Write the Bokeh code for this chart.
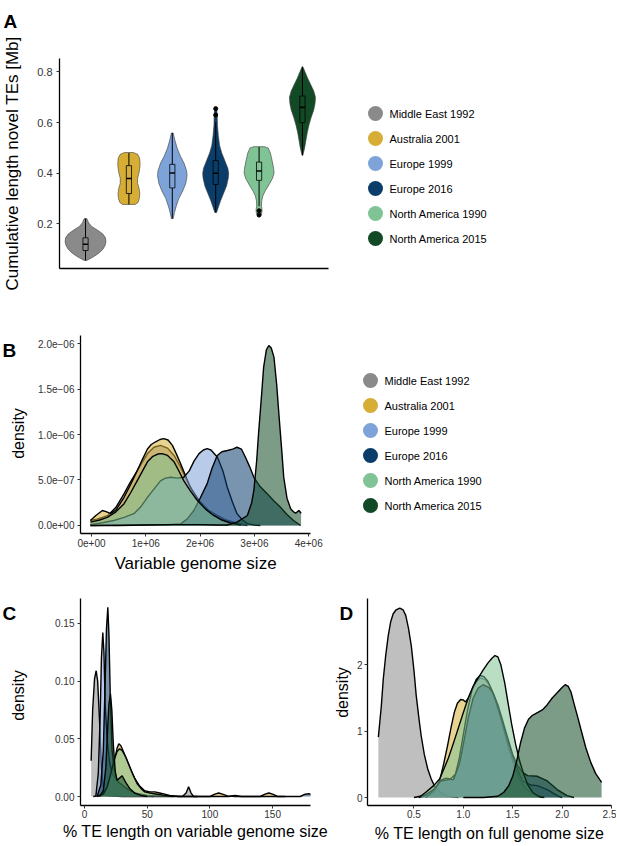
import math
from bokeh.plotting import figure
from bokeh.layouts import row, column
from bokeh.models import Range1d, FixedTicker, NumeralTickFormatter
from bokeh.core.properties import value
from bokeh.embed import file_html
from bokeh.resources import INLINE

FONT = "Liberation Sans"

groups = ["Middle East 1992", "Australia 2001", "Europe 1999", "Europe 2016",
          "North America 1990", "North America 2015"]
colors = ["#8a8a8a", "#d6ae35", "#7da3d9", "#0b3d6b", "#80c394", "#134a26"]

# ---------------- Panel A: violins (y in Mb, half-width in category units) ----
vio_me_y = [0.056, 0.062, 0.072, 0.085, 0.100, 0.115, 0.130, 0.145, 0.160, 0.175, 0.190, 0.205, 0.221]
vio_me_w = [0.03, 0.10, 0.20, 0.31, 0.40, 0.45, 0.47, 0.46, 0.40, 0.28, 0.14, 0.07, 0.03]
vio_au_y = [0.277, 0.285, 0.300, 0.320, 0.340, 0.360, 0.380, 0.400, 0.420, 0.440, 0.460, 0.475, 0.482]
vio_au_w = [0.15, 0.21, 0.24, 0.25, 0.235, 0.20, 0.20, 0.23, 0.25, 0.257, 0.245, 0.20, 0.10]
vio_e99_y = [0.221, 0.245, 0.270, 0.300, 0.330, 0.360, 0.390, 0.410, 0.440, 0.470, 0.500, 0.530, 0.559]
vio_e99_w = [0.02, 0.05, 0.09, 0.15, 0.24, 0.31, 0.34, 0.33, 0.27, 0.18, 0.11, 0.06, 0.02]
vio_e16_y = [0.245, 0.265, 0.290, 0.320, 0.350, 0.380, 0.400, 0.420, 0.450, 0.480, 0.510, 0.550, 0.590, 0.630, 0.662]
vio_e16_w = [0.02, 0.06, 0.11, 0.18, 0.25, 0.29, 0.30, 0.28, 0.21, 0.14, 0.09, 0.06, 0.04, 0.035, 0.02]
vio_na90_y = [0.229, 0.240, 0.255, 0.270, 0.290, 0.310, 0.330, 0.355, 0.380, 0.400, 0.420, 0.450, 0.480, 0.500, 0.505]
vio_na90_w = [0.02, 0.06, 0.07, 0.055, 0.06, 0.085, 0.14, 0.23, 0.31, 0.345, 0.335, 0.30, 0.26, 0.21, 0.12]
vio_na15_y = [0.471, 0.500, 0.530, 0.560, 0.590, 0.620, 0.650, 0.675, 0.700, 0.725, 0.750, 0.775, 0.800, 0.820]
vio_na15_w = [0.01, 0.05, 0.08, 0.11, 0.15, 0.20, 0.26, 0.29, 0.30, 0.26, 0.19, 0.12, 0.06, 0.01]

box_q1 = [0.095, 0.320, 0.342, 0.356, 0.372, 0.600]
box_med = [0.120, 0.379, 0.401, 0.400, 0.409, 0.660]
box_q3 = [0.145, 0.430, 0.435, 0.450, 0.444, 0.705]
box_lo = [0.056, 0.277, 0.221, 0.245, 0.270, 0.471]
box_hi = [0.221, 0.480, 0.559, 0.600, 0.504, 0.820]
out_group = [3, 3, 4, 4]
out_y = [0.630, 0.655, 0.252, 0.235]
a_y_ticks = [0.2, 0.4, 0.6, 0.8]

# ---------------- Panel B: density of variable genome size -----------------
# x in Mb (1e+06 bp), y in 1e-06 per bp
b_me_x = [-0.02, 0.1, 0.2, 0.3, 0.45, 0.6, 0.7, 0.81, 0.92, 1.03, 1.15, 1.27, 1.4, 1.52, 1.64, 1.76, 1.88, 2.0, 2.15, 2.32, 2.48, 2.62, 2.8]
b_me_y = [0.055, 0.07, 0.09, 0.11, 0.2, 0.35, 0.46, 0.57, 0.68, 0.79, 0.86, 0.88, 0.85, 0.77, 0.64, 0.49, 0.36, 0.26, 0.17, 0.11, 0.06, 0.037, 0.01]
b_au_x = [-0.02, 0.08, 0.2, 0.28, 0.35, 0.45, 0.6, 0.72, 0.84, 0.94, 1.03, 1.1, 1.18, 1.26, 1.33, 1.41, 1.49, 1.56, 1.64, 1.73, 1.82, 1.95, 2.07, 2.2, 2.38, 2.55, 2.7, 2.87]
b_au_y = [0.055, 0.11, 0.165, 0.15, 0.13, 0.17, 0.31, 0.45, 0.60, 0.73, 0.84, 0.89, 0.92, 0.945, 0.955, 0.94, 0.88, 0.79, 0.68, 0.55, 0.42, 0.3, 0.2, 0.13, 0.07, 0.035, 0.015, 0.0]
b_e99_x = [-0.02, 0.2, 0.41, 0.6, 0.78, 0.9, 1.03, 1.15, 1.27, 1.36, 1.46, 1.58, 1.7, 1.8, 1.89, 1.98, 2.06, 2.13, 2.2, 2.32, 2.42, 2.5, 2.6, 2.68, 2.78, 2.87, 3.0, 3.11]
b_e99_y = [0.01, 0.03, 0.055, 0.09, 0.13, 0.2, 0.31, 0.4, 0.49, 0.52, 0.53, 0.52, 0.53, 0.6, 0.71, 0.79, 0.83, 0.845, 0.83, 0.75, 0.6, 0.42, 0.25, 0.13, 0.06, 0.02, 0.005, 0.0]
b_e16_x = [-0.02, 0.5, 1.0, 1.4, 1.64, 1.76, 1.885, 2.0, 2.13, 2.22, 2.315, 2.4, 2.5, 2.6, 2.68, 2.76, 2.835, 2.91, 2.99, 3.1, 3.235, 3.36, 3.48, 3.6, 3.72, 3.85]
b_e16_y = [0.0, 0.005, 0.01, 0.01, 0.018, 0.07, 0.165, 0.3, 0.46, 0.63, 0.77, 0.81, 0.824, 0.84, 0.86, 0.84, 0.75, 0.65, 0.53, 0.43, 0.35, 0.27, 0.2, 0.12, 0.055, 0.0]
b_na90_x = [-0.02, 0.15, 0.29, 0.45, 0.6, 0.72, 0.84, 0.94, 1.03, 1.13, 1.22, 1.3, 1.4, 1.52, 1.6, 1.7, 1.82, 1.95, 2.1, 2.25, 2.4, 2.56, 2.75]
b_na90_y = [0.037, 0.06, 0.09, 0.15, 0.24, 0.36, 0.49, 0.6, 0.70, 0.76, 0.785, 0.79, 0.77, 0.70, 0.61, 0.49, 0.38, 0.275, 0.18, 0.11, 0.06, 0.026, 0.005]
b_na15_x = [-0.02, 0.5, 1.0, 1.5, 2.0, 2.3, 2.5, 2.68, 2.87, 2.95, 2.99, 3.04, 3.08, 3.13, 3.17, 3.22, 3.265, 3.31, 3.36, 3.41, 3.45, 3.5, 3.54, 3.6, 3.67, 3.72, 3.76, 3.8, 3.82, 3.86]
b_na15_y = [0.0, 0.0, 0.005, 0.01, 0.01, 0.005, 0.005, 0.037, 0.11, 0.25, 0.385, 0.7, 1.04, 1.42, 1.74, 1.93, 1.978, 1.95, 1.85, 1.55, 1.23, 0.85, 0.53, 0.3, 0.18, 0.15, 0.135, 0.155, 0.165, 0.135]
b_x_ticks = [0, 1, 2, 3, 4]
b_x_labels = ["0e+00", "1e+06", "2e+06", "3e+06", "4e+06"]
b_y_ticks = [0, 0.5, 1, 1.5, 2]
b_y_labels = ["0.0e+00", "5.0e\u221207", "1.0e\u221206", "1.5e\u221206", "2.0e\u221206"]

# ---------------- Panel C: % TE length on variable genome size --------------
c_me_x = [5.3, 6.5, 8, 9.3, 10.5, 12, 13.5, 15, 17, 20, 30, 50, 70, 78, 81, 83, 85, 87, 90]
c_me_y = [0.031, 0.075, 0.102, 0.109, 0.1, 0.065, 0.025, 0.007, 0.002, 0.0005, 0.0, 0.0, 0.0, 0.0, 0.003, 0.0085, 0.003, 0.0, 0.0]
c_au_x = [7, 12, 15, 18, 21, 24, 26, 27.4, 29, 31, 34, 37, 40, 44, 48, 52, 56, 60, 64, 68, 75, 90, 100, 104, 107, 110, 114, 120, 130, 140, 144, 147, 150, 154, 160]
c_au_y = [0.0, 0.001, 0.003, 0.008, 0.018, 0.032, 0.042, 0.0457, 0.044, 0.039, 0.031, 0.023, 0.016, 0.009, 0.005, 0.004, 0.004, 0.003, 0.002, 0.001, 0.0, 0.0, 0.0, 0.002, 0.003, 0.002, 0.0005, 0.0, 0.0, 0.0, 0.002, 0.003, 0.002, 0.0, 0.0]
c_e99_x = [9, 11, 12.5, 13.5, 14.6, 15.5, 16.5, 18, 20, 22, 25, 28, 32, 38, 45, 55]
c_e99_y = [0.0, 0.02, 0.07, 0.12, 0.142, 0.125, 0.08, 0.05, 0.03, 0.02, 0.015, 0.012, 0.008, 0.004, 0.001, 0.0]
c_e16_x = [10, 13, 15, 16.5, 17.5, 18.6, 19.5, 20.5, 22, 24, 27, 30, 35, 40, 50, 60, 80, 100, 115, 120, 125, 140, 160, 172, 176, 179, 182]
c_e16_y = [0.0, 0.01, 0.04, 0.1, 0.145, 0.164, 0.14, 0.09, 0.04, 0.02, 0.012, 0.01, 0.006, 0.003, 0.001, 0.0005, 0.0, 0.0, 0.0, 0.001, 0.0, 0.0, 0.0, 0.0, 0.002, 0.0025, 0.001]
c_na90_x = [10, 15, 18, 21, 24, 26, 28, 30, 33, 36, 39, 42, 45, 48, 52, 58, 64, 70]
c_na90_y = [0.0, 0.002, 0.008, 0.02, 0.033, 0.039, 0.0413, 0.04, 0.034, 0.026, 0.018, 0.011, 0.007, 0.004, 0.003, 0.002, 0.001, 0.0]
c_na15_x = [12, 15, 17, 18.5, 19.5, 20.7, 21.8, 23, 24.5, 26, 28, 30, 33, 36, 40, 45, 50]
c_na15_y = [0.0, 0.005, 0.025, 0.06, 0.08, 0.089, 0.075, 0.045, 0.022, 0.014, 0.016, 0.018, 0.012, 0.007, 0.003, 0.001, 0.0]
c_x_ticks = [0, 50, 100, 150]
c_y_ticks = [0, 0.05, 0.10, 0.15]

# ---------------- Panel D: % TE length on full genome size ------------------
d_me_x = [0.14, 0.17, 0.19, 0.215, 0.24, 0.265, 0.29, 0.32, 0.357, 0.39, 0.417, 0.445, 0.473, 0.5, 0.523, 0.55, 0.573, 0.605, 0.64, 0.675, 0.707, 0.75, 0.79, 0.84, 0.89, 0.95]
d_me_y = [0.91, 1.38, 1.79, 2.15, 2.44, 2.65, 2.77, 2.83, 2.855, 2.83, 2.745, 2.55, 2.29, 1.92, 1.54, 1.2, 0.935, 0.65, 0.43, 0.28, 0.18, 0.1, 0.055, 0.025, 0.01, 0.0]
d_au_x = [0.62, 0.7, 0.76, 0.8, 0.84, 0.875, 0.91, 0.94, 0.973, 1.0, 1.023, 1.05, 1.09, 1.13, 1.17, 1.22, 1.27, 1.32, 1.38, 1.44, 1.5, 1.56, 1.62, 1.7, 1.8]
d_au_y = [0.0, 0.08, 0.25, 0.5, 0.78, 1.05, 1.29, 1.42, 1.478, 1.47, 1.44, 1.5, 1.62, 1.74, 1.8, 1.78, 1.68, 1.5, 1.2, 0.85, 0.55, 0.3, 0.15, 0.05, 0.0]
d_e99_x = [0.55, 0.65, 0.72, 0.77, 0.82, 0.87, 0.92, 0.96, 1.0, 1.04, 1.09, 1.13, 1.17, 1.21, 1.25, 1.3, 1.35, 1.4, 1.45, 1.5, 1.55, 1.6, 1.68, 1.75, 1.85, 1.95, 2.0]
d_e99_y = [0.0, 0.04, 0.15, 0.26, 0.29, 0.28, 0.35, 0.6, 0.95, 1.3, 1.63, 1.78, 1.84, 1.82, 1.75, 1.58, 1.35, 1.1, 0.85, 0.62, 0.42, 0.25, 0.19, 0.18, 0.12, 0.03, 0.0]
d_e16_x = [0.5, 0.6, 0.7, 0.77, 0.85, 0.9, 0.96, 1.0, 1.05, 1.1, 1.15, 1.2, 1.257, 1.3, 1.35, 1.4, 1.45, 1.5, 1.55, 1.6, 1.65, 1.75, 1.85, 1.95, 2.05, 2.12]
d_e16_y = [0.0, 0.03, 0.12, 0.25, 0.27, 0.27, 0.5, 0.8, 1.2, 1.5, 1.65, 1.7, 1.66, 1.58, 1.4, 1.15, 0.9, 0.65, 0.48, 0.38, 0.33, 0.32, 0.25, 0.12, 0.03, 0.0]
d_na90_x = [0.55, 0.62, 0.7, 0.76, 0.8, 0.85, 0.9, 0.95, 1.0, 1.05, 1.1, 1.15, 1.2, 1.25, 1.29, 1.32, 1.35, 1.38, 1.42, 1.45, 1.49, 1.53, 1.57, 1.61, 1.65, 1.7, 1.76, 1.82]
d_na90_y = [0.0, 0.08, 0.18, 0.28, 0.42, 0.6, 0.82, 1.05, 1.28, 1.5, 1.68, 1.8, 1.92, 2.03, 2.1, 2.14, 2.12, 2.0, 1.72, 1.45, 1.1, 0.8, 0.55, 0.36, 0.2, 0.08, 0.02, 0.0]
d_na15_x = [1.0, 1.2, 1.35, 1.41, 1.46, 1.5, 1.54, 1.58, 1.62, 1.66, 1.7, 1.75, 1.8, 1.85, 1.9, 1.95, 2.0, 2.03, 2.06, 2.09, 2.12, 2.16, 2.19, 2.24, 2.29, 2.34, 2.4]
d_na15_y = [0.0, 0.0, 0.02, 0.08, 0.18, 0.32, 0.55, 0.83, 1.05, 1.18, 1.24, 1.28, 1.32, 1.4, 1.5, 1.58, 1.66, 1.70, 1.68, 1.59, 1.42, 1.2, 1.03, 0.75, 0.53, 0.36, 0.23]
d_x_ticks = [0.5, 1.0, 1.5, 2.0, 2.5]
d_y_ticks = [0, 1, 2]

TICK_COL = "#333333"


def make_fig(width, height, bl, br, bt, bb, xr, yr):
    p = figure(width=width, height=height, min_border_left=bl, min_border_right=br,
               min_border_top=bt, min_border_bottom=bb,
               x_range=Range1d(*xr), y_range=Range1d(*yr),
               output_backend="svg", toolbar_location=None, tools="")
    p.grid.visible = False
    p.outline_line_color = None
    p.background_fill_color = "white"
    p.border_fill_color = "white"
    for ax in p.axis:
        ax.axis_line_color = "black"
        ax.axis_line_width = 1.3
        ax.major_tick_line_color = TICK_COL
        ax.major_tick_line_width = 1
        ax.major_tick_out = 3
        ax.major_tick_in = 0
        ax.minor_tick_line_color = None
        ax.major_label_text_font = FONT
        ax.major_label_text_color = TICK_COL
        ax.axis_label_text_font = FONT
        ax.axis_label_text_font_style = "normal"
        ax.axis_label_text_color = "black"
    return p


def blank_fig(width, height, bt, bb, page_top):
    # a text-only strip; its y coordinate is the negated page row (pixels)
    p = figure(width=width, height=height, min_border_left=0, min_border_right=0,
               min_border_top=bt, min_border_bottom=bb,
               x_range=Range1d(0, width),
               y_range=Range1d(-(page_top + height - bb), -(page_top + bt)),
               x_axis_location=None, y_axis_location=None,
               output_backend="svg", toolbar_location=None, tools="")
    p.grid.visible = False
    p.outline_line_color = None
    return p


def add_letter(p, text, x, base_y):
    p.text(x=[x], y=[-base_y], text=[text], text_font=value(FONT), text_font_size="19px",
           text_font_style="bold", text_baseline="alphabetic", text_align="left", text_color="black")


def add_ylabel(p, text, x, y, size):
    p.text(x=[x], y=[-y], text=[text], angle=math.pi / 2, text_font=value(FONT),
           text_font_size=size, text_baseline="middle", text_align="center", text_color="black")


def legend_fig(width, height, bt, bb, cx, first_px):
    # frame shares top/bottom borders with its row neighbour; 25 px per legend key
    fh = height - bt - bb
    top = -first_px / 25.0
    p = figure(width=width, height=height, min_border_left=0, min_border_right=0,
               min_border_top=bt, min_border_bottom=bb,
               x_range=Range1d(-cx, width - cx), y_range=Range1d(top + fh / 25.0, top),
               x_axis_location=None, y_axis_location=None,
               output_backend="svg", toolbar_location=None, tools="")
    p.grid.visible = False
    p.outline_line_color = None
    idx = list(range(len(groups)))
    p.scatter(x=[0] * len(groups), y=idx, size=15, fill_color=colors, line_color=None)
    p.text(x=[14] * len(groups), y=idx, text=groups, text_font=value(FONT),
           text_font_size="11px", text_baseline="middle", text_align="left", text_color="black")
    return p


def density_panel(p, xs_list, ys_list):
    for i in range(len(groups)):
        p.varea(x=xs_list[i], y1=0, y2=ys_list[i], fill_color=colors[i], fill_alpha=0.55)
        p.line(xs_list[i], ys_list[i], line_color="black", line_width=1.4)


def small_axes(p, label_size):
    for ax in p.axis:
        ax.major_label_text_font_size = "10px"
        ax.axis_label_text_font_size = label_size


# ---------------- Strip holding the "A" panel letter ----------------
strip = blank_fig(616, 32, 0, 0, 0)
add_letter(strip, "A", 3, 21)

# ---------------- Row 1: panel A + legend ----------------
pa = make_fig(338, 268, 58, 10, 26, 32, (0.4, 6.6), (0.024, 0.853))
vio_y = [vio_me_y, vio_au_y, vio_e99_y, vio_e16_y, vio_na90_y, vio_na15_y]
vio_w = [vio_me_w, vio_au_w, vio_e99_w, vio_e16_w, vio_na90_w, vio_na15_w]
positions = list(range(1, len(groups) + 1))
for i, c in enumerate(positions):
    xs = [c + w for w in vio_w[i]] + [c - w for w in reversed(vio_w[i])]
    ys = list(vio_y[i]) + list(reversed(vio_y[i]))
    pa.patch(xs, ys, fill_color=colors[i], line_color="#3a3a3a", line_width=0.6)
bw = 0.06
pa.segment(x0=positions, y0=box_lo, x1=positions, y1=box_q1, line_color="black", line_width=1)
pa.segment(x0=positions, y0=box_q3, x1=positions, y1=box_hi, line_color="black", line_width=1)
pa.quad(left=[c - bw for c in positions], right=[c + bw for c in positions],
        bottom=box_q1, top=box_q3, fill_color=colors, line_color="black", line_width=0.8)
pa.segment(x0=[c - bw for c in positions], y0=box_med, x1=[c + bw for c in positions], y1=box_med,
           line_color="black", line_width=1.6)
pa.scatter(x=[positions[g] for g in out_group], y=out_y, size=4, fill_color="black", line_color="black")
pa.xaxis.ticker = FixedTicker(ticks=[])
pa.yaxis.ticker = FixedTicker(ticks=a_y_ticks)
pa.yaxis.major_label_text_font_size = "11px"
pa.yaxis.major_label_standoff = 4
pa.yaxis.axis_label = "Cumulative length novel TEs [Mb]"
pa.yaxis.axis_label_text_font_size = "17px"
pa.yaxis.axis_label_standoff = 12

leg_a = legend_fig(278, 268, 26, 32, 37, 55)

# ---------------- Row 2: panel B + legend ----------------
ROW2_TOP = 300
sb = blank_fig(28, 280, 35, 47, ROW2_TOP)
add_letter(sb, "B", 2, 350)
add_ylabel(sb, "density", 18, 433, "16px")

pb = make_fig(300, 280, 52, 18, 35, 47, (-0.203, 4.033), (-0.088, 2.088))
density_panel(pb, [b_me_x, b_au_x, b_e99_x, b_e16_x, b_na90_x, b_na15_x],
              [b_me_y, b_au_y, b_e99_y, b_e16_y, b_na90_y, b_na15_y])
pb.xaxis.ticker = FixedTicker(ticks=b_x_ticks)
pb.xaxis.major_label_overrides = dict(zip(b_x_ticks, b_x_labels))
pb.yaxis.ticker = FixedTicker(ticks=b_y_ticks)
pb.yaxis.major_label_overrides = dict(zip(b_y_ticks, b_y_labels))
small_axes(pb, "17px")
pb.xaxis.major_label_standoff = 2
pb.xaxis.axis_label_standoff = 4
pb.yaxis.major_label_standoff = 3
pb.xaxis.axis_label = "Variable genome size"

leg_b = legend_fig(288, 280, 35, 47, 42, 45)

# ---------------- Row 3: panels C and D ----------------
ROW3_TOP = 580
sc = blank_fig(28, 265, 18, 40, ROW3_TOP)
add_letter(sc, "C", 2, 613)
add_ylabel(sc, "density", 18, 695, "16px")

pc = make_fig(302, 265, 52, 20, 18, 40, (-3.19, 180.2), (-0.0078, 0.1716))
density_panel(pc, [c_me_x, c_au_x, c_e99_x, c_e16_x, c_na90_x, c_na15_x],
              [c_me_y, c_au_y, c_e99_y, c_e16_y, c_na90_y, c_na15_y])
pc.xaxis.ticker = FixedTicker(ticks=c_x_ticks)
pc.yaxis.ticker = FixedTicker(ticks=c_y_ticks)
pc.yaxis.formatter = NumeralTickFormatter(format="0.00")
small_axes(pc, "16px")
pc.xaxis.major_label_standoff = 1
pc.xaxis.axis_label_standoff = 2
pc.yaxis.major_label_standoff = 3
pc.xaxis.axis_label = "% TE length on variable genome size"

sd = blank_fig(23, 265, 18, 40, ROW3_TOP)
add_letter(sd, "D", 9, 613)
add_ylabel(sd, "density", 12, 692, "16px")

pd_ = make_fig(263, 265, 11, 5, 18, 40, (0.03, 2.50), (-0.12, 3.0))
density_panel(pd_, [d_me_x, d_au_x, d_e99_x, d_e16_x, d_na90_x, d_na15_x],
              [d_me_y, d_au_y, d_e99_y, d_e16_y, d_na90_y, d_na15_y])
pd_.xaxis.ticker = FixedTicker(ticks=d_x_ticks)
pd_.xaxis.formatter = NumeralTickFormatter(format="0.0")
pd_.yaxis.ticker = FixedTicker(ticks=d_y_ticks)
small_axes(pd_, "16px")
pd_.xaxis.major_label_standoff = 1
pd_.xaxis.axis_label_standoff = 4
pd_.yaxis.major_label_standoff = 2
pd_.xaxis.axis_label = "% TE length on full genome size"

layout = column(strip, row(pa, leg_a), row(sb, pb, leg_b), row(sc, pc, sd, pd_))

with open("out.html", "w") as f:
    f.write(file_html(layout, INLINE))
